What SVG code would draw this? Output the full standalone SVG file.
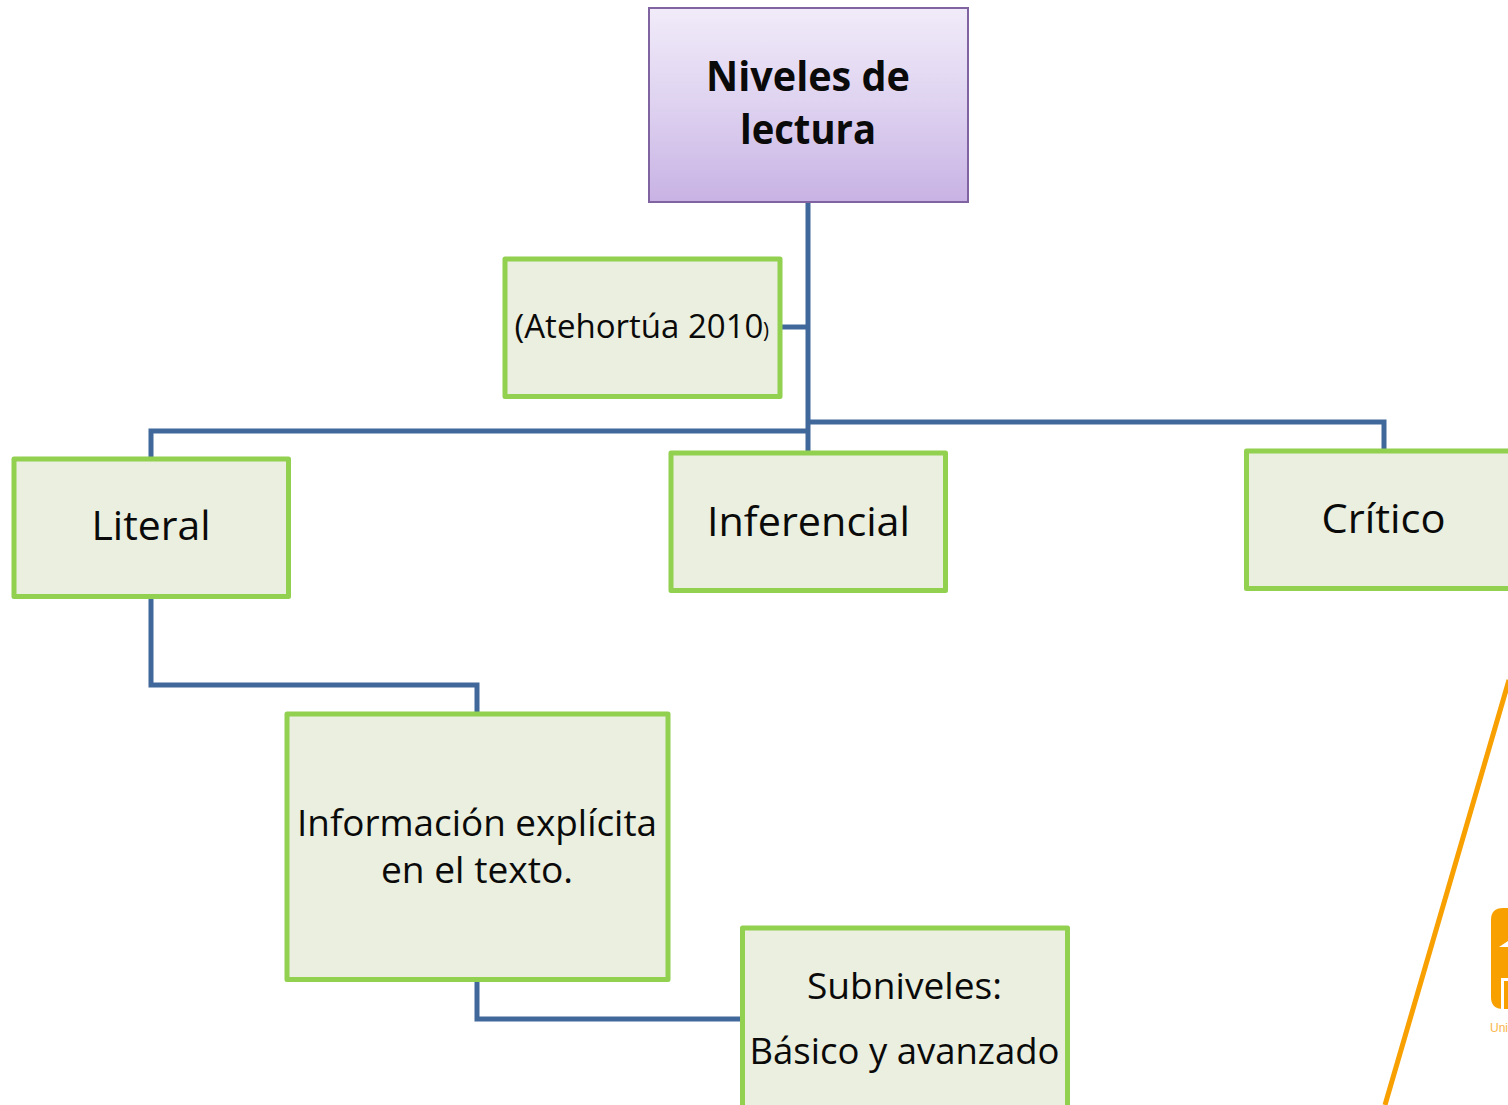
<svg xmlns="http://www.w3.org/2000/svg" width="1508" height="1105" viewBox="0 0 1508 1105">
<defs>
<linearGradient id="purple" x1="0" y1="0" x2="0" y2="1"><stop offset="0" stop-color="#f1ebf9"/><stop offset="0.5" stop-color="#ded2f0"/><stop offset="1" stop-color="#c8b2e4"/></linearGradient>
</defs>
<style>
.n{fill:#ebefdf;stroke:#92d050;stroke-width:5;stroke-linejoin:round}
.c{fill:none;stroke:#41689a;stroke-width:5}
text{font-family:"Open Sans","Noto Sans","Liberation Sans",sans-serif;fill:#0a0a0a;text-anchor:middle}
</style>
<rect width="1508" height="1105" fill="#fff"/>
<g id="decor">
<path d="M1509 680L1385 1105" fill="none" stroke="#f7a000" stroke-width="5"/>
<path d="M1508 908H1503Q1491 908 1491 920V997Q1491 1009 1503 1009H1508Z" fill="#f7a000"/>
<path d="M1499 947L1508 941V947Z" fill="#fff"/>
<path d="M1501 1009V978H1508V981H1504V1009Z" fill="#fff"/>
<text x="1490" y="1032" font-size="12" style="fill:#f9b44a;text-anchor:start;font-family:'Liberation Sans',sans-serif">Uni</text>
</g>
<g id="connectors">
<path class="c" d="M808 202V452"/>
<path class="c" d="M782 327H808"/>
<path class="c" d="M808 431H151V458"/>
<path class="c" d="M808 422H1384V450"/>
<path class="c" d="M151 598V685H477V713"/>
<path class="c" d="M477 980V1019H742"/>
</g>
<g id="root">
<rect x="649" y="8" width="319" height="194" fill="url(#purple)" stroke="#8064a2" stroke-width="2"/>
<text x="808" y="91" font-size="41" font-weight="700" textLength="204" lengthAdjust="spacingAndGlyphs">Niveles de</text>
<text x="808" y="144" font-size="41" font-weight="700" textLength="136" lengthAdjust="spacingAndGlyphs">lectura</text>
</g>
<g id="cita">
<rect class="n" x="505" y="259" width="275" height="137.500"/>
<text x="639" y="338" font-size="33" textLength="249" lengthAdjust="spacingAndGlyphs">(Atehortúa 2010</text>
<text x="766" y="338" font-size="22" textLength="6" lengthAdjust="spacingAndGlyphs">)</text>
</g>
<g id="literal">
<rect class="n" x="14" y="459" width="274.500" height="137.500"/>
<text x="151" y="540" font-size="41" textLength="119" lengthAdjust="spacingAndGlyphs">Literal</text>
</g>
<g id="inferencial">
<rect class="n" x="671" y="453" width="274.500" height="137.500"/>
<text x="808.500" y="536" font-size="41" textLength="203" lengthAdjust="spacingAndGlyphs">Inferencial</text>
</g>
<g id="critico">
<rect class="n" x="1246.500" y="451" width="275" height="137.500"/>
<text x="1383.500" y="533" font-size="41" textLength="124" lengthAdjust="spacingAndGlyphs">Crítico</text>
</g>
<g id="informacion">
<rect class="n" x="287" y="714" width="381" height="265.500"/>
<text x="477" y="836" font-size="37" textLength="360" lengthAdjust="spacingAndGlyphs">Información explícita</text>
<text x="477" y="883" font-size="37" textLength="192" lengthAdjust="spacingAndGlyphs">en el texto.</text>
</g>
<g id="subniveles">
<rect class="n" x="742.500" y="928" width="325" height="190"/>
<text x="904.500" y="999" font-size="37" textLength="195" lengthAdjust="spacingAndGlyphs">Subniveles:</text>
<text x="904.500" y="1064" font-size="37" textLength="310" lengthAdjust="spacingAndGlyphs">Básico y avanzado</text>
</g>
</svg>
